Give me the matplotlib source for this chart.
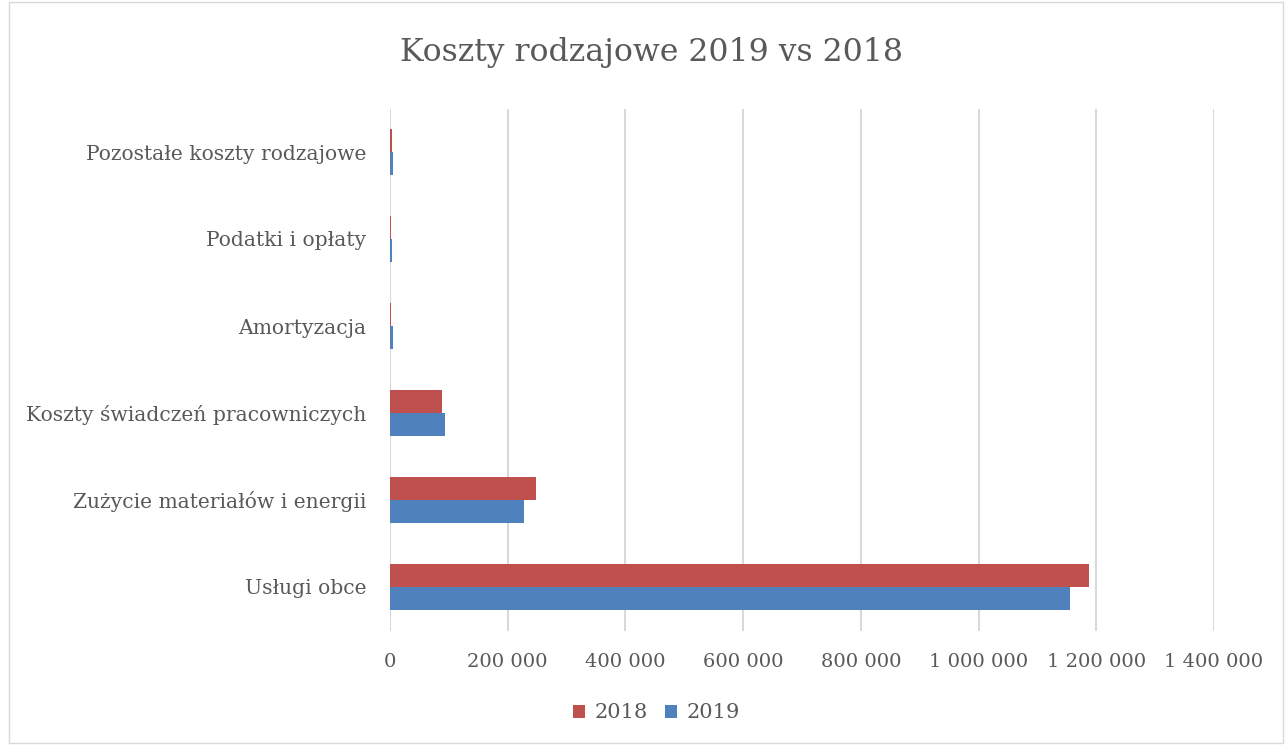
import matplotlib
matplotlib.use("Agg")
import matplotlib.pyplot as plt
import numpy as np
from matplotlib.ticker import FuncFormatter
from matplotlib.patches import Rectangle

categories = ["Usługi obce", "Zużycie materiałów i energii", "Koszty świadczeń pracowniczych",
              "Amortyzacja", "Podatki i opłaty", "Pozostałe koszty rodzajowe"]
values_2018 = [1187600, 248000, 87800, 2500, 2500, 3500]
values_2019 = [1155300, 227700, 94000, 5000, 4000, 4500]
xticks = [0, 200000, 400000, 600000, 800000, 1000000, 1200000, 1400000]

FONT = "DejaVu Serif"
TXT = "#595959"
RED = "#C0504D"
BLUE = "#4F81BD"

fig = plt.figure(figsize=(12.85, 7.45), dpi=100)
ax = fig.add_axes([390/1285, 1 - 630.5/745, (1214-390)/1285, 522/745])

y = np.arange(len(categories))
h = 0.265
ax.barh(y + h/2, values_2018, height=h, color=RED, label="2018", zorder=3)
ax.barh(y - h/2, values_2019, height=h, color=BLUE, label="2019", zorder=3)

ax.set_xlim(0, 1400000)
ax.set_ylim(-0.5, len(categories) - 0.5)
ax.set_xticks(xticks)
ax.xaxis.set_major_formatter(FuncFormatter(lambda v, p: f"{int(v):,}".replace(",", " ")))
ax.set_yticks(y)
ax.set_yticklabels(categories)
ax.grid(axis="x", color="#D9D9D9", linewidth=1.5, zorder=0)
for s in ax.spines.values():
    s.set_visible(False)
ax.tick_params(length=0, labelcolor=TXT)
ax.tick_params(axis="y", labelsize=14.6, pad=17)
ax.tick_params(axis="x", labelsize=14, pad=16)
for lab in ax.get_xticklabels() + ax.get_yticklabels():
    lab.set_fontfamily(FONT)

fig.text(652/1285, 1 - 53/745, "Koszty rodzajowe 2019 vs 2018", ha="center", va="center",
         fontsize=22.7, color=TXT, family=FONT)

handles, labels = ax.get_legend_handles_labels()
leg = fig.legend(handles, labels, loc="center", bbox_to_anchor=(656.5/1285, 1 - 713/745), ncol=2,
                 frameon=False, prop={"family": FONT, "size": 15}, handlelength=0.6, handleheight=0.6,
                 handletextpad=0.45, columnspacing=0.8)
for t in leg.get_texts():
    t.set_color(TXT)

fig.patches.append(Rectangle((9/1285, 2/745), 1274/1285, 741/745, transform=fig.transFigure,
                             fill=False, edgecolor="#D9D9D9", linewidth=1))
fig.savefig("out.png", dpi=100)
